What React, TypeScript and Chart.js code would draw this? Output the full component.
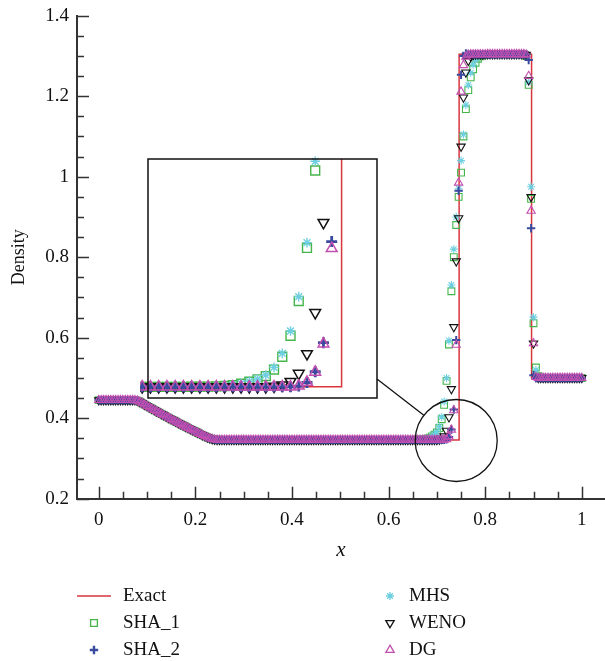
import React, { useEffect, useRef } from "react";
import { Chart, registerables } from "chart.js";
import { drawPoint } from "chart.js/helpers";

Chart.register(...registerables);

// ---------------- data ----------------
const xNodes = [
  0, 0.005, 0.01, 0.015, 0.02, 0.025, 0.03, 0.035, 0.04, 0.045,
  0.05, 0.055, 0.06, 0.065, 0.07, 0.075, 0.08, 0.085, 0.09, 0.095,
  0.1, 0.105, 0.11, 0.115, 0.12, 0.125, 0.13, 0.135, 0.14, 0.145,
  0.15, 0.155, 0.16, 0.165, 0.17, 0.175, 0.18, 0.185, 0.19, 0.195,
  0.2, 0.205, 0.21, 0.215, 0.22, 0.225, 0.23, 0.235, 0.24, 0.245,
  0.25, 0.255, 0.26, 0.265, 0.27, 0.275, 0.28, 0.285, 0.29, 0.295,
  0.3, 0.305, 0.31, 0.315, 0.32, 0.325, 0.33, 0.335, 0.34, 0.345,
  0.35, 0.355, 0.36, 0.365, 0.37, 0.375, 0.38, 0.385, 0.39, 0.395,
  0.4, 0.405, 0.41, 0.415, 0.42, 0.425, 0.43, 0.435, 0.44, 0.445,
  0.45, 0.455, 0.46, 0.465, 0.47, 0.475, 0.48, 0.485, 0.49, 0.495,
  0.5, 0.505, 0.51, 0.515, 0.52, 0.525, 0.53, 0.535, 0.54, 0.545,
  0.55, 0.555, 0.56, 0.565, 0.57, 0.575, 0.58, 0.585, 0.59, 0.595,
  0.6, 0.605, 0.61, 0.615, 0.62, 0.625, 0.63, 0.635, 0.64, 0.645,
  0.65, 0.655, 0.66, 0.665, 0.67, 0.675, 0.68, 0.685, 0.69, 0.695,
  0.7, 0.705, 0.71, 0.715, 0.72, 0.725, 0.73, 0.735, 0.74, 0.745,
  0.75, 0.755, 0.76, 0.765, 0.77, 0.775, 0.78, 0.785, 0.79, 0.795,
  0.8, 0.805, 0.81, 0.815, 0.82, 0.825, 0.83, 0.835, 0.84, 0.845,
  0.85, 0.855, 0.86, 0.865, 0.87, 0.875, 0.88, 0.885, 0.89, 0.895,
  0.9, 0.905, 0.91, 0.915, 0.92, 0.925, 0.93, 0.935, 0.94, 0.945,
  0.95, 0.955, 0.96, 0.965, 0.97, 0.975, 0.98, 0.985, 0.99, 0.995,
  1,
];

// shared pieces (x = 0 .. 0.07)
const leftState = [
  0.445, 0.445, 0.445, 0.445, 0.445, 0.445, 0.445, 0.445, 0.445, 0.445,
  0.445, 0.445, 0.445, 0.445, 0.445,
];
// x = 0.075 .. 0.25
const rarefaction = [
  0.4447, 0.4436, 0.4407, 0.4373, 0.4338, 0.4304, 0.427, 0.4236, 0.4203, 0.417,
  0.4137, 0.4104, 0.4072, 0.4039, 0.4007, 0.3975, 0.3944, 0.3912, 0.3881, 0.385,
  0.3819, 0.3788, 0.3758, 0.3727, 0.3697, 0.3668, 0.3638, 0.3609, 0.358, 0.3552,
  0.3525, 0.35, 0.348, 0.3468, 0.3463, 0.3462,
];
// x = 0.255 .. 0.65
const lowPlateau = [
  0.3461, 0.3461, 0.3461, 0.3461, 0.3461, 0.3461, 0.3461, 0.3461, 0.3461, 0.3461,
  0.3461, 0.3461, 0.3461, 0.3461, 0.3461, 0.3461, 0.3461, 0.3461, 0.3461, 0.3461,
  0.3461, 0.3461, 0.3461, 0.3461, 0.3461, 0.3461, 0.3461, 0.3461, 0.3461, 0.3461,
  0.3461, 0.3461, 0.3461, 0.3461, 0.3461, 0.3461, 0.3461, 0.3461, 0.3461, 0.3461,
  0.3461, 0.3461, 0.3461, 0.3461, 0.3461, 0.3461, 0.3461, 0.3461, 0.3461, 0.3461,
  0.3461, 0.3461, 0.3461, 0.3461, 0.3461, 0.3461, 0.3461, 0.3461, 0.3461, 0.3461,
  0.3461, 0.3461, 0.3461, 0.3461, 0.3461, 0.3461, 0.3461, 0.3461, 0.3461, 0.3461,
  0.3461, 0.3461, 0.3461, 0.3461, 0.3461, 0.3461, 0.3461, 0.3461, 0.3461, 0.3461,
];
// x = 0.805 .. 0.88
const highPlateau = [
  1.3044, 1.3044, 1.3044, 1.3044, 1.3044, 1.3044, 1.3044, 1.3044,
  1.3044, 1.3044, 1.3044, 1.3044, 1.3044, 1.3044, 1.3044, 1.3044,
];
// x = 0.925 .. 1
const rightState = [
  0.5, 0.5, 0.5, 0.5, 0.5, 0.5, 0.5, 0.5, 0.5, 0.5, 0.5, 0.5, 0.5, 0.5, 0.5, 0.5,
];

// contact region x = 0.655 .. 0.80
const sha1Contact = [
  0.3462, 0.3463, 0.3465, 0.3468, 0.3475, 0.3488, 0.3515, 0.3547, 0.3588, 0.3645,
  0.3755, 0.3974, 0.4333, 0.4926, 0.5832, 0.7154, 0.8, 0.88, 0.95, 1.01,
  1.1, 1.168, 1.215, 1.247, 1.267, 1.283, 1.293, 1.299, 1.302, 1.303,
];
const sha2Contact = [
  0.3461, 0.3461, 0.3461, 0.3461, 0.3461, 0.3461, 0.3461, 0.3461, 0.3461, 0.3461,
  0.3461, 0.3461, 0.3461, 0.3474, 0.3535, 0.3718, 0.4214, 0.594, 0.965, 1.253,
  1.3, 1.306, 1.304, 1.304, 1.304, 1.304, 1.304, 1.304, 1.304, 1.304,
];
const mhsContact = [
  0.3462, 0.3464, 0.3466, 0.347, 0.3478, 0.3492, 0.352, 0.3555, 0.3595, 0.3662,
  0.3793, 0.4032, 0.4414, 0.5, 0.5923, 0.7311, 0.82, 0.9, 0.97, 1.04,
  1.105, 1.178, 1.228, 1.258, 1.278, 1.29, 1.297, 1.301, 1.303, 1.304,
];
const wenoContact = [
  0.3461, 0.3461, 0.3461, 0.3461, 0.3461, 0.3461, 0.3461, 0.3461, 0.3461, 0.3461,
  0.347, 0.349, 0.355, 0.3689, 0.4025, 0.4726, 0.6265, 0.79, 0.897, 1.075,
  1.197, 1.259, 1.288, 1.299, 1.303, 1.304, 1.304, 1.304, 1.304, 1.304,
];
const dgContact = [
  0.3461, 0.3461, 0.3461, 0.3461, 0.3461, 0.3461, 0.3461, 0.3461, 0.3461, 0.3461,
  0.3461, 0.3461, 0.3461, 0.3476, 0.354, 0.3713, 0.4195, 0.5823, 0.985, 1.211,
  1.277, 1.298, 1.303, 1.304, 1.304, 1.304, 1.304, 1.304, 1.304, 1.304,
];

// shock region x = 0.885 .. 0.92
const sha1Shock = [1.3, 1.228, 0.945, 0.636, 0.526, 0.5045, 0.501, 0.5];
const sha2Shock = [1.304, 1.29, 0.872, 0.507, 0.5, 0.5, 0.5, 0.5];
const mhsShock = [1.301, 1.235, 0.975, 0.651, 0.52, 0.503, 0.5005, 0.5];
const wenoShock = [1.303, 1.24, 0.95, 0.586, 0.503, 0.5, 0.5, 0.5];
const dgShock = [1.303, 1.25, 0.915, 0.586, 0.502, 0.5, 0.5, 0.5];

// exact solution breakpoints
const exactX = [0, 0.0786, 0.1, 0.12, 0.14, 0.16, 0.18, 0.2, 0.22, 0.2427, 0.746, 0.746, 0.896, 0.896, 1];
const exactY = [0.445, 0.445, 0.4303, 0.417, 0.4039, 0.3912, 0.3788, 0.3668, 0.355, 0.3461, 0.3461, 1.3044, 1.3044, 0.5, 0.5];

// axes
const xMajorTicks = [0, 0.2, 0.4, 0.6, 0.8, 1];
const xTickLabels = ["0", "0.2", "0.4", "0.6", "0.8", "1"];
const xMinorTicks = [0.05, 0.1, 0.15, 0.25, 0.3, 0.35, 0.45, 0.5, 0.55, 0.65, 0.7, 0.75, 0.85, 0.9, 0.95];
const yMajorTicks = [0.2, 0.4, 0.6, 0.8, 1, 1.2, 1.4];
const yTickLabels = ["0.2", "0.4", "0.6", "0.8", "1", "1.2", "1.4"];
const yMinorTicks = [0.25, 0.3, 0.35, 0.45, 0.5, 0.55, 0.65, 0.7, 0.75, 0.85, 0.9, 0.95, 1.05, 1.1, 1.15, 1.25, 1.3, 1.35];

// zoom region (data coordinates)
const zoomCenter = { x: 0.74, y: 0.3446 };
const insetXRange = [0.6285, 0.7675];
const insetYRange = [0.327, 0.735];

// ---------------- build series ----------------
const sha1 = [...leftState, ...rarefaction, ...lowPlateau, ...sha1Contact, ...highPlateau, ...sha1Shock, ...rightState];
const sha2 = [...leftState, ...rarefaction, ...lowPlateau, ...sha2Contact, ...highPlateau, ...sha2Shock, ...rightState];
const mhs = [...leftState, ...rarefaction, ...lowPlateau, ...mhsContact, ...highPlateau, ...mhsShock, ...rightState];
const weno = [...leftState, ...rarefaction, ...lowPlateau, ...wenoContact, ...highPlateau, ...wenoShock, ...rightState];
const dg = [...leftState, ...rarefaction, ...lowPlateau, ...dgContact, ...highPlateau, ...dgShock, ...rightState];

const toPoints = (ys: number[]) => xNodes.map((x, i) => ({ x, y: ys[i] }));
const exactPoints = exactX.map((x, i) => ({ x, y: exactY[i] }));

// ---------------- styles ----------------
const FONT = "'Liberation Serif', 'DejaVu Serif', serif";
const TEXT = "#111111";
const AXIS = "#333333";
const RED = "#d8363f";

type Marker = {
  label: string;
  values: number[];
  color: string;
  pointStyle: string;
  rotation: number;
  r: number;
  w: number;
  ir: number;
  iw: number;
  order: number;
};

const markers: Marker[] = [
  { label: "SHA_1", values: sha1, color: "#45b54b", pointStyle: "rect", rotation: 0, r: 4.8, w: 1.1, ir: 6.3, iw: 1.4, order: 5 },
  { label: "SHA_2", values: sha2, color: "#3a4b9f", pointStyle: "cross", rotation: 0, r: 4.2, w: 2, ir: 5.5, iw: 2.8, order: 2 },
  { label: "MHS", values: mhs, color: "#6dcfe0", pointStyle: "star", rotation: 0, r: 4, w: 1.1, ir: 4.8, iw: 1.4, order: 4 },
  { label: "WENO", values: weno, color: "#111111", pointStyle: "triangle", rotation: 180, r: 4.8, w: 1.1, ir: 6.2, iw: 1.5, order: 3 },
  { label: "DG", values: dg, color: "#c24fb0", pointStyle: "triangle", rotation: 0, r: 4.8, w: 1.1, ir: 6.2, iw: 1.5, order: 1 },
];

function buildDatasets(inset: boolean): any[] {
  const exact = {
    label: "Exact",
    data: exactPoints,
    showLine: true,
    borderColor: RED,
    backgroundColor: RED,
    borderWidth: 1.5,
    pointRadius: 0,
    order: 6,
  };
  const marks = markers.map((m) => ({
    label: m.label,
    data: toPoints(m.values),
    showLine: false,
    pointStyle: m.pointStyle,
    rotation: m.rotation,
    pointRadius: inset ? m.ir : m.r,
    pointBorderWidth: inset ? m.iw : m.w,
    borderColor: m.color,
    backgroundColor: "rgba(0,0,0,0)",
    pointBackgroundColor: "rgba(0,0,0,0)",
    pointBorderColor: m.color,
    order: m.order,
    clip: inset ? { left: 8, top: 3, right: 0, bottom: 8 } : undefined,
  }));
  return [exact, ...marks];
}

// inset placement (page pixels)
const INSET = { left: 148, top: 159, width: 229, height: 239, pad: 8 };
const CIRCLE_R = 41;

// ---------------- plugins ----------------
const inwardTicks = {
  id: "inwardTicks",
  afterDraw(chart: any) {
    const { ctx, chartArea, scales } = chart;
    const x = scales.x;
    const y = scales.y;
    ctx.save();
    ctx.strokeStyle = AXIS;
    ctx.lineWidth = 1.5;
    ctx.beginPath();
    const b = chartArea.bottom;
    const l = chartArea.left;
    xMajorTicks.forEach((v) => {
      const p = Math.round(x.getPixelForValue(v)) + 0.5;
      ctx.moveTo(p, b);
      ctx.lineTo(p, b - 12);
    });
    xMinorTicks.forEach((v) => {
      const p = Math.round(x.getPixelForValue(v)) + 0.5;
      ctx.moveTo(p, b);
      ctx.lineTo(p, b - 7);
    });
    yMajorTicks.forEach((v) => {
      const p = Math.round(y.getPixelForValue(v)) + 0.5;
      ctx.moveTo(l, p);
      ctx.lineTo(l + 12, p);
    });
    yMinorTicks.forEach((v) => {
      const p = Math.round(y.getPixelForValue(v)) + 0.5;
      ctx.moveTo(l, p);
      ctx.lineTo(l + 7, p);
    });
    ctx.stroke();
    ctx.restore();
  },
};

const zoomMarker = {
  id: "zoomMarker",
  afterDatasetsDraw(chart: any) {
    const { ctx, scales } = chart;
    const cx = scales.x.getPixelForValue(zoomCenter.x);
    const cy = scales.y.getPixelForValue(zoomCenter.y);
    ctx.save();
    ctx.strokeStyle = "#111";
    ctx.lineWidth = 1.3;
    ctx.beginPath();
    ctx.arc(cx, cy, CIRCLE_R, 0, Math.PI * 2);
    ctx.stroke();
    const sx = INSET.left + INSET.width;
    const sy = INSET.top + INSET.height - 19;
    const dx = cx - sx;
    const dy = cy - sy;
    const d = Math.hypot(dx, dy);
    ctx.beginPath();
    ctx.moveTo(sx, sy);
    ctx.lineTo(cx - (dx / d) * CIRCLE_R, cy - (dy / d) * CIRCLE_R);
    ctx.stroke();
    ctx.restore();
  },
};

const customLegend = {
  id: "customLegend",
  afterDraw(chart: any) {
    const { ctx } = chart;
    const rows = [596, 623, 650];
    const cols = [
      { sym: 94, text: 123 },
      { sym: 390, text: 409 },
    ];
    const items: any[] = [
      { label: "Exact", line: true, col: 0, row: 0 },
      { ...markers[0], col: 0, row: 1 },
      { ...markers[1], col: 0, row: 2 },
      { ...markers[2], col: 1, row: 0 },
      { ...markers[3], col: 1, row: 1 },
      { ...markers[4], col: 1, row: 2 },
    ];
    ctx.save();
    ctx.font = `19px ${FONT}`;
    ctx.textBaseline = "middle";
    ctx.textAlign = "left";
    items.forEach((it) => {
      const c = cols[it.col];
      const yy = rows[it.row];
      if (it.line) {
        ctx.strokeStyle = RED;
        ctx.lineWidth = 1.5;
        ctx.beginPath();
        ctx.moveTo(c.sym - 17, yy);
        ctx.lineTo(c.sym + 17, yy);
        ctx.stroke();
      } else {
        ctx.strokeStyle = it.color;
        ctx.fillStyle = "rgba(0,0,0,0)";
        ctx.lineWidth = it.w * 1.2;
        drawPoint(ctx, { pointStyle: it.pointStyle, rotation: it.rotation, radius: it.r, borderWidth: it.w * 1.2 } as any, c.sym, yy);
      }
      ctx.fillStyle = TEXT;
      ctx.fillText(it.label, c.text, yy);
    });
    ctx.restore();
  },
};

const insetFrame = {
  id: "insetFrame",
  afterDraw(chart: any) {
    const { ctx, chartArea } = chart;
    ctx.save();
    ctx.strokeStyle = "#111";
    ctx.lineWidth = 1.5;
    ctx.strokeRect(chartArea.left, chartArea.top, chartArea.right - chartArea.left, chartArea.bottom - chartArea.top);
    ctx.restore();
  },
};

// ---------------- component ----------------
export default function App() {
  const mainRef = useRef<HTMLCanvasElement | null>(null);
  const insetRef = useRef<HTMLCanvasElement | null>(null);

  useEffect(() => {
    if (!mainRef.current || !insetRef.current) return;
    const main = new Chart(mainRef.current, {
      type: "scatter",
      data: { datasets: buildDatasets(false) },
      options: {
        animation: false,
        responsive: false,
        maintainAspectRatio: false,
        layout: { autoPadding: false, padding: { top: 15.7, right: 0, left: 0, bottom: 0 } },
        plugins: { legend: { display: false }, tooltip: { enabled: false } },
        events: [],
        scales: {
          x: {
            type: "linear",
            position: "bottom",
            min: -0.045,
            max: 1.048,
            afterBuildTicks: (s: any) => {
              s.ticks = xMajorTicks.map((v) => ({ value: v }));
            },
            afterFit: (s: any) => {
              s.height = 162.3;
              s.paddingLeft = 0;
              s.paddingRight = 0;
            },
            grid: { display: false, drawTicks: false },
            border: { display: true, color: AXIS, width: 2 },
            ticks: {
              padding: 10,
              color: TEXT,
              font: { family: FONT, size: 19 },
              callback: (_v: any, i: number) => xTickLabels[i],
            },
            title: {
              display: true,
              text: "x",
              color: TEXT,
              font: { family: FONT, size: 21, style: "italic" },
              padding: { top: 0, bottom: 98 },
            },
          },
          y: {
            type: "linear",
            position: "left",
            min: 0.2,
            max: 1.4,
            afterBuildTicks: (s: any) => {
              s.ticks = yMajorTicks.map((v) => ({ value: v }));
            },
            afterFit: (s: any) => {
              s.width = 77;
              s.paddingTop = 0;
              s.paddingBottom = 0;
            },
            grid: { display: false, drawTicks: false },
            border: { display: true, color: AXIS, width: 2 },
            ticks: {
              padding: 8,
              color: TEXT,
              font: { family: FONT, size: 19 },
              callback: (_v: any, i: number) => yTickLabels[i],
            },
            title: {
              display: true,
              text: "Density",
              color: TEXT,
              font: { family: FONT, size: 18 },
              padding: { top: 8, bottom: 0 },
            },
          },
        },
      } as any,
      plugins: [inwardTicks, zoomMarker, customLegend],
    });

    const inset = new Chart(insetRef.current, {
      type: "scatter",
      data: { datasets: buildDatasets(true) },
      options: {
        animation: false,
        responsive: false,
        maintainAspectRatio: false,
        layout: { autoPadding: false, padding: INSET.pad },
        plugins: { legend: { display: false }, tooltip: { enabled: false } },
        events: [],
        scales: {
          x: { type: "linear", display: false, min: insetXRange[0], max: insetXRange[1] },
          y: { type: "linear", display: false, min: insetYRange[0], max: insetYRange[1] },
        },
      } as any,
      plugins: [insetFrame],
    });

    return () => {
      main.destroy();
      inset.destroy();
    };
  }, []);

  return (
    <div style={{ position: "fixed", left: 0, top: 0, width: 605, height: 661, background: "#ffffff" }}>
      <canvas ref={mainRef} width={605} height={661} style={{ position: "absolute", left: 0, top: 0, display: "block" }} />
      <canvas
        ref={insetRef}
        width={INSET.width + INSET.pad * 2}
        height={INSET.height + INSET.pad * 2}
        style={{ position: "absolute", left: INSET.left - INSET.pad, top: INSET.top - INSET.pad, display: "block" }}
      />
    </div>
  );
}
